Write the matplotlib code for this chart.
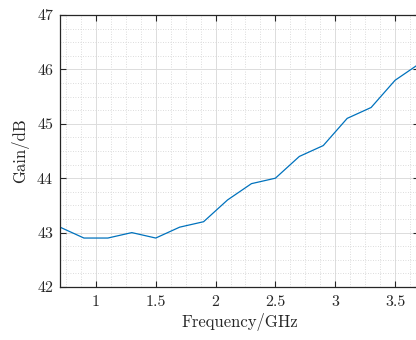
import matplotlib
matplotlib.use("Agg")
import matplotlib.pyplot as plt
from matplotlib.ticker import MultipleLocator

freq = [0.7, 0.9, 1.1, 1.3, 1.5, 1.7, 1.9, 2.1, 2.3, 2.5, 2.7, 2.9, 3.1, 3.3, 3.5, 3.7]
gain = [43.1, 42.9, 42.9, 43.0, 42.9, 43.1, 43.2, 43.6, 43.9, 44.0, 44.4, 44.6, 45.1, 45.3, 45.8, 46.1]
xticks = [1, 1.5, 2, 2.5, 3, 3.5]
yticks = [42, 43, 44, 45, 46, 47]

plt.rcParams['font.family'] = 'serif'
plt.rcParams['font.serif'] = ['cmr10']
plt.rcParams['mathtext.fontset'] = 'cm'
plt.rcParams['axes.formatter.use_mathtext'] = True

W, H = 416, 340
fig = plt.figure(figsize=(W/100, H/100), dpi=100)
ax = fig.add_axes([60/W, (H-287)/H, (419-60)/W, (287-15)/H])

ax.plot(freq, gain, color='#0072BD', lw=0.9)
ax.set_xlim(0.7, 3.7)
ax.set_ylim(42, 47)
ax.set_xticks(xticks)
ax.set_xticklabels([f"{t:g}" for t in xticks])
ax.set_yticks(yticks)
ax.set_yticklabels([f"{t:g}" for t in yticks])
ax.xaxis.set_minor_locator(MultipleLocator(0.125))
ax.yaxis.set_minor_locator(MultipleLocator(0.25))

ec = '#262626'
for s in ax.spines.values():
    s.set_color(ec)
    s.set_linewidth(0.9)
ax.tick_params(which='both', direction='in', top=True, right=True, colors=ec,
               labelsize=11.5, labelcolor=ec)
ax.tick_params(which='major', length=4, width=0.8)
ax.tick_params(which='minor', length=0)
ax.tick_params(axis='x', pad=6)
ax.tick_params(axis='y', pad=5)

ax.grid(which='major', color='#dcdcdc', lw=0.7, ls='-')
ax.grid(which='minor', color='#d0d0d0', lw=0.6, ls=(0, (1, 2)))
ax.set_axisbelow(True)

ax.set_xlabel('Frequency/GHz', fontsize=12, color=ec, labelpad=3)
ax.set_ylabel('Gain/dB', fontsize=12, color=ec, labelpad=6)

fig.savefig('out.png', dpi=100)
